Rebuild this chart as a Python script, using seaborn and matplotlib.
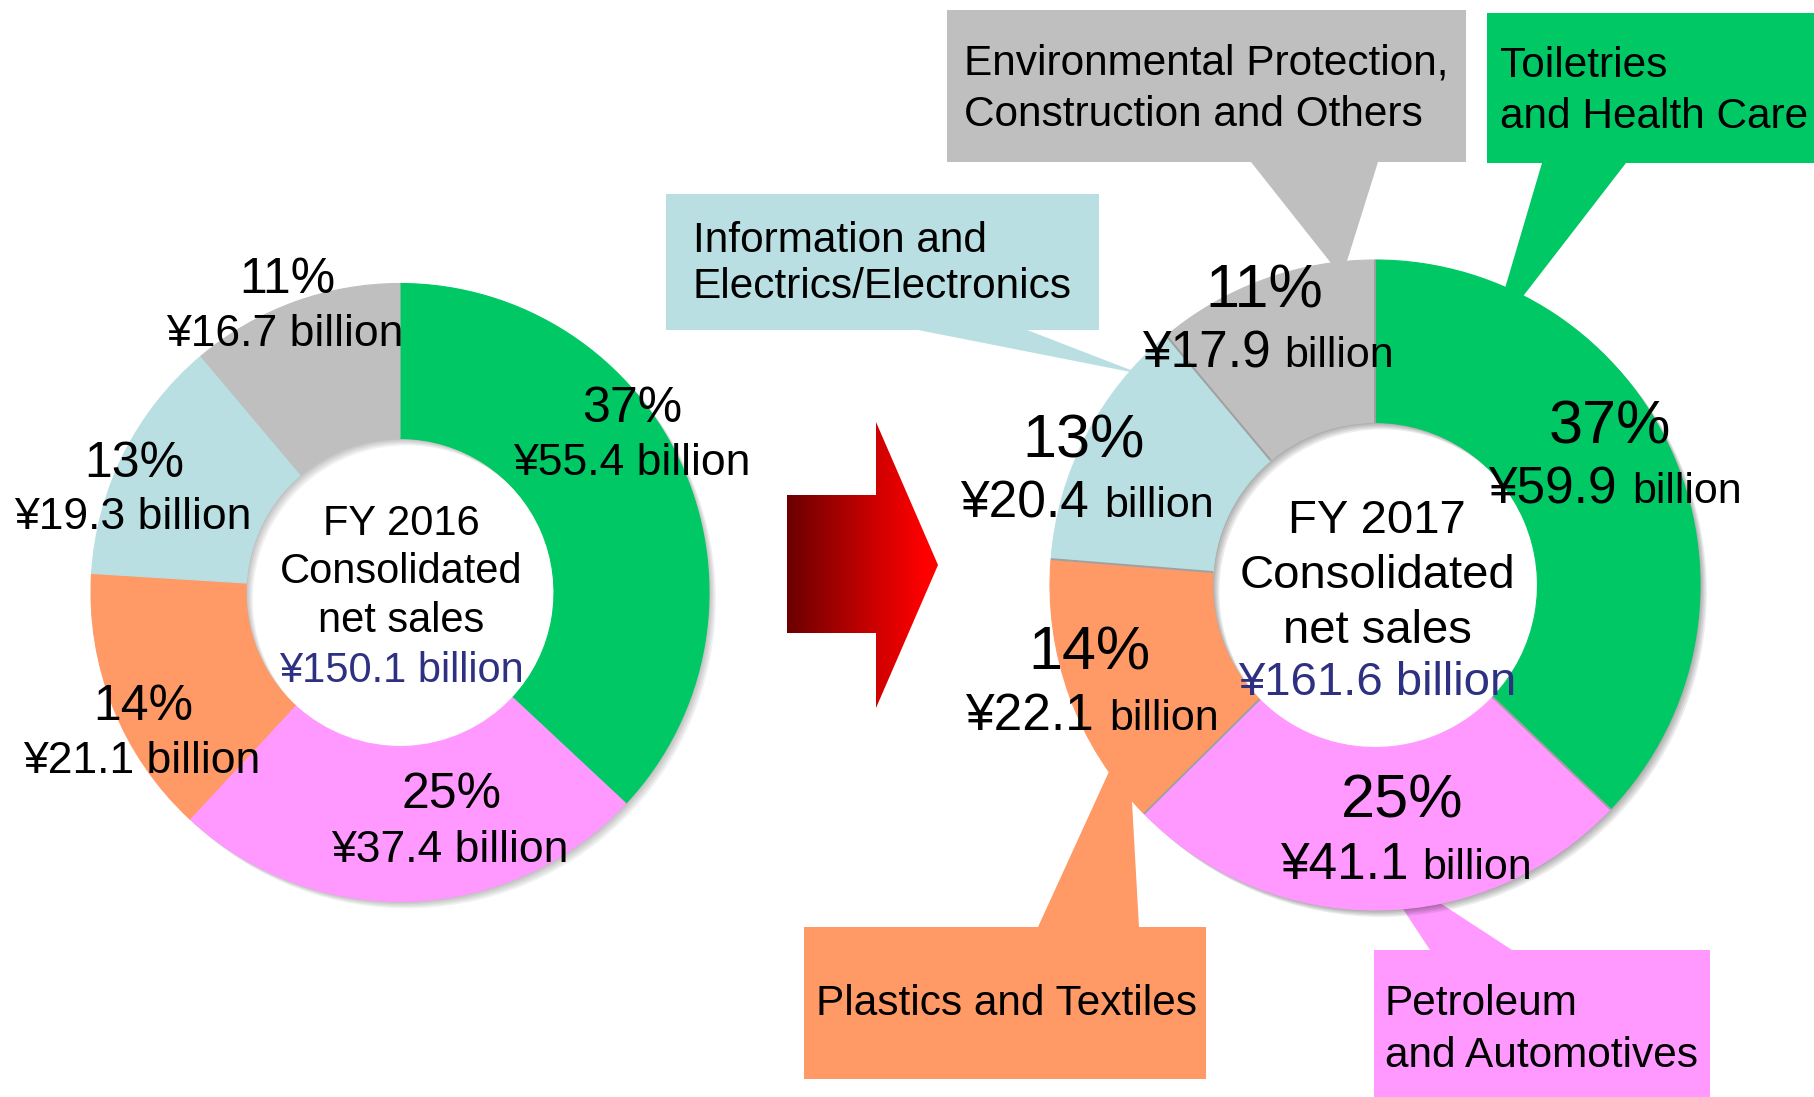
import numpy as np
import matplotlib
matplotlib.use("Agg")
import matplotlib.pyplot as plt
import matplotlib.patheffects as pe
from matplotlib.patches import Polygon
from matplotlib.colors import LinearSegmentedColormap
import seaborn as sns

# ---- data -------------------------------------------------------------
segments = [
    ["Toiletries", "and Health Care"],
    ["Petroleum", "and Automotives"],
    ["Plastics and Textiles"],
    ["Information and", "Electrics/Electronics"],
    ["Environmental Protection,", "Construction and Others"],
]
years = ["FY 2016", "FY 2017"]
sales_2016 = [55.4, 37.4, 21.1, 19.3, 16.7]   # ¥ billion
sales_2017 = [59.9, 41.1, 22.1, 20.4, 17.9]   # ¥ billion
totals = [150.1, 161.6]                        # consolidated net sales, ¥ billion

# ---- style ------------------------------------------------------------
sns.set_theme(style="white")
plt.rcParams["font.family"] = ["Liberation Sans", "DejaVu Sans"]
plt.rcParams["text.color"] = "black"
palette = sns.color_palette(["#00C864", "#FF99FF", "#FF9966", "#B9DFE2", "#BFBFBF"])
total_color = "#2E3182"

W, H = 1814, 1097
fig = plt.figure(figsize=(W / 100, H / 100), dpi=100)
ax = fig.add_axes([0, 0, 1, 1])

# ---- layout (pixel coordinates, y downward) ----------------------------
donut = {
    "FY 2016": dict(center=(400, 592.5), radius=309, width=155),
    "FY 2017": dict(center=(1375, 585), radius=325, width=162.5),
}
pct_pos = {
    "FY 2016": [(632, 422), (451, 808), (143, 720), (134, 477), (287, 293)],
    "FY 2017": [(1610, 443), (1402, 817), (1089, 670), (1084, 457), (1264, 307)],
}
val_pos_2016 = [(632, 475), (450, 862), (142, 773), (133, 529), (285, 346)]
num_pos_2017 = [(1488, 503), (1280, 879), (965, 730), (960, 517), (1142, 367)]
unit_x_2017 = [1632, 1422, 1109, 1104, 1284]
center_text = {
    "FY 2016": dict(x=401, baselines=[535, 583, 632, 682], size=30),
    "FY 2017": dict(x=1377, baselines=[533, 588, 643, 695], size=34),
}
callouts = [
    dict(box=(1487, 13, 1814, 163), base=((1542, 163), (1626, 163)), tip=(1490, 339),
         text_x=1500, baselines=[77, 128]),
    dict(box=(1374, 950, 1710, 1100), base=((1430, 950), (1512, 950)), tip=(1368, 856),
         text_x=1385, baselines=[1015, 1067]),
    dict(box=(804, 927, 1206, 1079), base=((1038, 927), (1139, 927)), tip=(1128, 730),
         text_x=816, baselines=[1015]),
    dict(box=(666, 194, 1099, 330), base=((918, 330), (1027, 330)), tip=(1141, 374),
         text_x=693, baselines=[252, 298]),
    dict(box=(947, 10, 1466, 162), base=((1251, 162), (1378, 162)), tip=(1342, 277),
         text_x=964, baselines=[75, 126]),
]
arrow_outline = [(787, 495), (876, 495), (876, 422), (938, 565),
                 (876, 708), (876, 633), (787, 633)]

# ---- callout boxes for the FY 2017 segments -----------------------------
for spec, lines, col in zip(callouts, segments, palette):
    x0, y0, x1, y1 = spec["box"]
    ax.add_patch(Polygon([(x0, y0), (x1, y0), (x1, y1), (x0, y1)], closed=True,
                         facecolor=col, edgecolor="none", zorder=1))
    (bx0, by0), (bx1, by1) = spec["base"]
    ax.add_patch(Polygon([(bx0, by0), spec["tip"], (bx1, by1)], closed=True,
                         facecolor=col, edgecolor="none", zorder=1))
    for line, yb in zip(lines, spec["baselines"]):
        ax.text(spec["text_x"], yb, line, ha="left", va="baseline",
                fontsize=30.5, color="black", zorder=6)


# ---- donuts -------------------------------------------------------------
def draw_donut(values, geom, shadow_alpha):
    kw = dict(colors=palette, startangle=-90, counterclock=True,
              center=geom["center"], radius=geom["radius"], frame=True)
    shadows = [pe.SimplePatchShadow(offset=(k, -k), shadow_rgbFace="black",
                                    alpha=shadow_alpha) for k in (1, 2, 3, 4, 5)]
    ax.pie(values, wedgeprops=dict(width=geom["width"], linewidth=0,
                                   path_effects=shadows, zorder=2), **kw)
    wedges, _ = ax.pie(values, wedgeprops=dict(width=geom["width"], linewidth=0.8,
                                               zorder=3), **kw)
    for w in wedges:
        w.set_edgecolor(w.get_facecolor())
    return wedges


wedges_2016 = draw_donut(sales_2016, donut["FY 2016"], 0.05)
wedges_2017 = draw_donut(sales_2017, donut["FY 2017"], 0.07)

# thin grey separators between the FY 2017 segments
for w in wedges_2017:
    t = np.deg2rad(w.theta1)
    cx, cy = w.center
    r_in, r_out = w.r - w.width, w.r
    ax.plot([cx + r_in * np.cos(t), cx + r_out * np.cos(t)],
            [cy + r_in * np.sin(t), cy + r_out * np.sin(t)],
            color="#A0A0A0", lw=1.4, zorder=4, solid_capstyle="butt")

# ---- segment labels -------------------------------------------------------
for v, (px, py), (vx, vy) in zip(sales_2016, pct_pos["FY 2016"], val_pos_2016):
    pct = round(v / totals[0] * 100)
    ax.text(px, py, f"{pct}%", ha="center", va="baseline", fontsize=36,
            color="black", zorder=6)
    ax.text(vx, vy, f"¥{v:.1f} billion", ha="center", va="baseline", fontsize=32,
            color="black", zorder=6)

for v, (px, py), (nx, ny), ux in zip(sales_2017, pct_pos["FY 2017"], num_pos_2017, unit_x_2017):
    pct = round(v / totals[1] * 100)
    ax.text(px, py, f"{pct}%", ha="center", va="baseline", fontsize=44,
            color="black", zorder=6)
    ax.text(nx, ny, f"¥{v:.1f}", ha="left", va="baseline", fontsize=37,
            color="black", zorder=6)
    ax.text(ux, ny, "billion", ha="left", va="baseline", fontsize=31,
            color="black", zorder=6)

# ---- centre captions -----------------------------------------------------
for year, total in zip(years, totals):
    spec = center_text[year]
    lines = [year, "Consolidated", "net sales", f"¥{total:.1f} billion"]
    colors = ["black", "black", "black", total_color]
    for line, yb, c in zip(lines, spec["baselines"], colors):
        ax.text(spec["x"], yb, line, ha="center", va="baseline",
                fontsize=spec["size"], color=c, zorder=6)

# ---- gradient arrow between the two years -------------------------------------
xs = [p[0] for p in arrow_outline]
ys = [p[1] for p in arrow_outline]
arrow_cmap = LinearSegmentedColormap.from_list(
    "arrow", [(0.0, "#6B0000"), (0.6, "#D00000"), (0.92, "#FF0000"), (1.0, "#FF0000")])
grad = np.linspace(0, 1, 256)[None, :]
im = ax.imshow(grad, cmap=arrow_cmap, aspect="auto", interpolation="bilinear",
               extent=(min(xs), max(xs), max(ys), min(ys)), zorder=2)
arrow_patch = Polygon(arrow_outline, closed=True, facecolor="none", edgecolor="none")
ax.add_patch(arrow_patch)
im.set_clip_path(arrow_patch)

# ---- canvas ---------------------------------------------------------------
ax.set_xlim(0, W)
ax.set_ylim(H, 0)
ax.set_aspect("equal")
ax.axis("off")
fig.patch.set_facecolor("white")
fig.savefig("out.png", dpi=100, facecolor="white")
